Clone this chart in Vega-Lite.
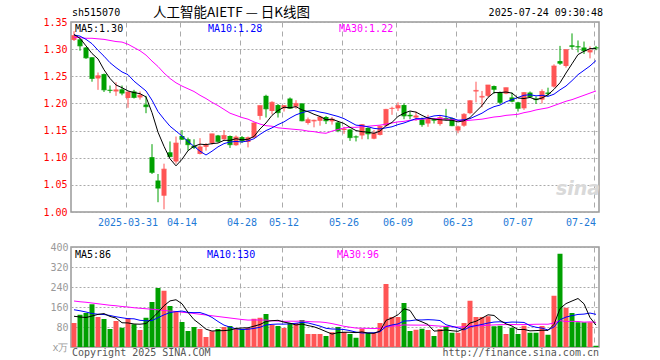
{
"$schema": "https://vega.github.io/schema/vega-lite/v6.json",
"padding": {"left": 42, "top": 5, "right": 5, "bottom": 4},
"background": "white",
"spacing": 13,
"config": {
  "view": {"stroke": "#999999", "strokeWidth": 1.5},
  "axis": {"labelFont": "DejaVu Sans Mono", "labelFontSize": 10, "ticks": false, "domain": false, "title": null, "gridColor": "#aaaaaa", "gridWidth": 1, "labelOverlap": false, "labelBound": false},
  "text": {"font": "DejaVu Sans Mono", "fontSize": 10}
},
"datasets": {"k": [
{"d":"2025-03-18","o":1.317,"h":1.333,"l":1.315,"c":1.325,"v":96,"m5":1.327,"m10":1.326,"m30":1.322,"vm5":123,"vm10":149,"vm30":184},
{"d":"2025-03-19","o":1.318,"h":1.320,"l":1.297,"c":1.306,"v":129,"m5":1.320,"m10":1.324,"m30":1.321,"vm5":120,"vm10":145,"vm30":181},
{"d":"2025-03-20","o":1.303,"h":1.304,"l":1.282,"c":1.284,"v":136,"m5":1.306,"m10":1.318,"m30":1.320,"vm5":118,"vm10":140,"vm30":179},
{"d":"2025-03-21","o":1.285,"h":1.285,"l":1.240,"c":1.246,"v":171,"m5":1.292,"m10":1.310,"m30":1.320,"vm5":124,"vm10":134,"vm30":176},
{"d":"2025-03-24","o":1.246,"h":1.257,"l":1.225,"c":1.251,"v":120,"m5":1.282,"m10":1.298,"m30":1.319,"vm5":130.4,"vm10":131,"vm30":173},
{"d":"2025-03-25","o":1.254,"h":1.255,"l":1.221,"c":1.225,"v":112,"m5":1.262,"m10":1.287,"m30":1.318,"vm5":133.6,"vm10":130,"vm30":170},
{"d":"2025-03-26","o":1.225,"h":1.233,"l":1.219,"c":1.224,"v":72,"m5":1.246,"m10":1.275,"m30":1.316,"vm5":122.2,"vm10":126,"vm30":167},
{"d":"2025-03-27","o":1.222,"h":1.239,"l":1.214,"c":1.225,"v":104,"m5":1.234,"m10":1.266,"m30":1.314,"vm5":115.8,"vm10":121,"vm30":165},
{"d":"2025-03-28","o":1.226,"h":1.233,"l":1.215,"c":1.219,"v":77,"m5":1.229,"m10":1.258,"m30":1.313,"vm5":97,"vm10":117,"vm30":162},
{"d":"2025-03-31","o":1.210,"h":1.222,"l":1.192,"c":1.221,"v":116,"m5":1.223,"m10":1.253,"m30":1.309,"vm5":96.2,"vm10":113.3,"vm30":160},
{"d":"2025-04-01","o":1.222,"h":1.225,"l":1.209,"c":1.211,"v":91,"m5":1.220,"m10":1.241,"m30":1.303,"vm5":92,"vm10":112.8,"vm30":157},
{"d":"2025-04-02","o":1.211,"h":1.222,"l":1.207,"c":1.215,"v":68,"m5":1.218,"m10":1.232,"m30":1.297,"vm5":91.2,"vm10":106.7,"vm30":155},
{"d":"2025-04-03","o":1.198,"h":1.214,"l":1.182,"c":1.194,"v":117,"m5":1.212,"m10":1.223,"m30":1.289,"vm5":93.8,"vm10":104.8,"vm30":153},
{"d":"2025-04-07","o":1.101,"h":1.125,"l":1.070,"c":1.073,"v":180,"m5":1.183,"m10":1.206,"m30":1.278,"vm5":114.4,"vm10":105.7,"vm30":151},
{"d":"2025-04-08","o":1.058,"h":1.070,"l":1.018,"c":1.044,"v":236,"m5":1.147,"m10":1.185,"m30":1.268,"vm5":138.4,"vm10":117.3,"vm30":149},
{"d":"2025-04-09","o":1.030,"h":1.089,"l":1.005,"c":1.079,"v":225,"m5":1.121,"m10":1.171,"m30":1.256,"vm5":165.2,"vm10":128.6,"vm30":146},
{"d":"2025-04-10","o":1.110,"h":1.130,"l":1.101,"c":1.102,"v":164,"m5":1.098,"m10":1.158,"m30":1.246,"vm5":184.4,"vm10":137.8,"vm30":144},
{"d":"2025-04-11","o":1.093,"h":1.139,"l":1.089,"c":1.127,"v":140,"m5":1.085,"m10":1.149,"m30":1.238,"vm5":189,"vm10":141.4,"vm30":142},
{"d":"2025-04-14","o":1.140,"h":1.151,"l":1.133,"c":1.134,"v":100,"m5":1.097,"m10":1.140,"m30":1.232,"vm5":173,"vm10":143.7,"vm30":139},
{"d":"2025-04-15","o":1.134,"h":1.137,"l":1.113,"c":1.124,"v":64,"m5":1.113,"m10":1.130,"m30":1.227,"vm5":138.6,"vm10":138.5,"vm30":137},
{"d":"2025-04-16","o":1.122,"h":1.134,"l":1.116,"c":1.119,"v":80,"m5":1.121,"m10":1.121,"m30":1.222,"vm5":109.6,"vm10":137.4,"vm30":134},
{"d":"2025-04-17","o":1.107,"h":1.136,"l":1.106,"c":1.120,"v":72,"m5":1.125,"m10":1.112,"m30":1.215,"vm5":91.2,"vm10":137.8,"vm30":131},
{"d":"2025-04-18","o":1.120,"h":1.127,"l":1.113,"c":1.123,"v":40,"m5":1.124,"m10":1.105,"m30":1.209,"vm5":71.2,"vm10":130.1,"vm30":128},
{"d":"2025-04-21","o":1.127,"h":1.144,"l":1.124,"c":1.144,"v":63,"m5":1.126,"m10":1.112,"m30":1.202,"vm5":63.8,"vm10":118.4,"vm30":125},
{"d":"2025-04-22","o":1.141,"h":1.142,"l":1.128,"c":1.130,"v":72,"m5":1.127,"m10":1.120,"m30":1.196,"vm5":65.4,"vm10":102,"vm30":122},
{"d":"2025-04-23","o":1.134,"h":1.151,"l":1.133,"c":1.141,"v":80,"m5":1.132,"m10":1.126,"m30":1.189,"vm5":65.4,"vm10":87.5,"vm30":119},
{"d":"2025-04-24","o":1.140,"h":1.141,"l":1.118,"c":1.124,"v":84,"m5":1.132,"m10":1.129,"m30":1.182,"vm5":67.8,"vm10":79.5,"vm30":116},
{"d":"2025-04-25","o":1.123,"h":1.141,"l":1.122,"c":1.138,"v":72,"m5":1.135,"m10":1.130,"m30":1.178,"vm5":74.2,"vm10":72.7,"vm30":113},
{"d":"2025-04-28","o":1.138,"h":1.140,"l":1.127,"c":1.131,"v":72,"m5":1.133,"m10":1.129,"m30":1.174,"vm5":76,"vm10":69.9,"vm30":110},
{"d":"2025-04-29","o":1.129,"h":1.139,"l":1.119,"c":1.137,"v":76,"m5":1.134,"m10":1.131,"m30":1.171,"vm5":76.8,"vm10":71.1,"vm30":107.6},
{"d":"2025-04-30","o":1.137,"h":1.165,"l":1.137,"c":1.164,"v":113,"m5":1.139,"m10":1.135,"m30":1.166,"vm5":83.4,"vm10":74.4,"vm30":108.2},
{"d":"2025-05-06","o":1.177,"h":1.196,"l":1.170,"c":1.196,"v":117,"m5":1.153,"m10":1.143,"m30":1.162,"vm5":90,"vm10":78.9,"vm30":107.8},
{"d":"2025-05-07","o":1.214,"h":1.216,"l":1.174,"c":1.190,"v":132,"m5":1.164,"m10":1.150,"m30":1.159,"vm5":102,"vm10":88.1,"vm30":107.7},
{"d":"2025-05-08","o":1.186,"h":1.204,"l":1.180,"c":1.202,"v":88,"m5":1.178,"m10":1.155,"m30":1.158,"vm5":105.2,"vm10":90.6,"vm30":104.9},
{"d":"2025-05-09","o":1.197,"h":1.199,"l":1.174,"c":1.183,"v":84,"m5":1.187,"m10":1.161,"m30":1.155,"vm5":106.8,"vm10":91.8,"vm30":103.7},
{"d":"2025-05-12","o":1.191,"h":1.197,"l":1.185,"c":1.196,"v":76,"m5":1.193,"m10":1.166,"m30":1.154,"vm5":99.4,"vm10":91.4,"vm30":102.5},
{"d":"2025-05-13","o":1.209,"h":1.211,"l":1.190,"c":1.191,"v":96,"m5":1.192,"m10":1.173,"m30":1.153,"vm5":95.2,"vm10":92.6,"vm30":103.3},
{"d":"2025-05-14","o":1.194,"h":1.206,"l":1.190,"c":1.200,"v":96,"m5":1.194,"m10":1.179,"m30":1.152,"vm5":88,"vm10":95,"vm30":103},
{"d":"2025-05-15","o":1.200,"h":1.200,"l":1.167,"c":1.168,"v":108,"m5":1.188,"m10":1.183,"m30":1.151,"vm5":92,"vm10":98.6,"vm30":104.1},
{"d":"2025-05-16","o":1.164,"h":1.174,"l":1.161,"c":1.170,"v":52,"m5":1.185,"m10":1.186,"m30":1.149,"vm5":85.6,"vm10":96.2,"vm30":101.9},
{"d":"2025-05-19","o":1.167,"h":1.170,"l":1.156,"c":1.169,"v":52,"m5":1.180,"m10":1.187,"m30":1.148,"vm5":80.8,"vm10":90.1,"vm30":100.6},
{"d":"2025-05-20","o":1.168,"h":1.177,"l":1.159,"c":1.175,"v":52,"m5":1.176,"m10":1.184,"m30":1.146,"vm5":72,"vm10":83.6,"vm30":100.1},
{"d":"2025-05-21","o":1.175,"h":1.177,"l":1.162,"c":1.168,"v":44,"m5":1.170,"m10":1.182,"m30":1.145,"vm5":61.6,"vm10":74.8,"vm30":97.7},
{"d":"2025-05-22","o":1.167,"h":1.175,"l":1.161,"c":1.171,"v":59,"m5":1.171,"m10":1.179,"m30":1.149,"vm5":51.8,"vm10":71.9,"vm30":93.6},
{"d":"2025-05-23","o":1.165,"h":1.167,"l":1.147,"c":1.150,"v":80,"m5":1.167,"m10":1.176,"m30":1.152,"vm5":57.4,"vm10":71.5,"vm30":88.4},
{"d":"2025-05-26","o":1.151,"h":1.157,"l":1.144,"c":1.153,"v":60,"m5":1.163,"m10":1.172,"m30":1.155,"vm5":59,"vm10":69.9,"vm30":82.9},
{"d":"2025-05-27","o":1.152,"h":1.153,"l":1.131,"c":1.137,"v":52,"m5":1.156,"m10":1.166,"m30":1.156,"vm5":59,"vm10":65.5,"vm30":79.2},
{"d":"2025-05-28","o":1.139,"h":1.141,"l":1.130,"c":1.138,"v":37,"m5":1.150,"m10":1.160,"m30":1.156,"vm5":57.6,"vm10":59.6,"vm30":75.8},
{"d":"2025-05-29","o":1.141,"h":1.162,"l":1.134,"c":1.161,"v":73,"m5":1.148,"m10":1.159,"m30":1.157,"vm5":60.4,"vm10":56.1,"vm30":74.9},
{"d":"2025-05-30","o":1.155,"h":1.156,"l":1.134,"c":1.144,"v":56,"m5":1.147,"m10":1.157,"m30":1.158,"vm5":55.6,"vm10":56.5,"vm30":74.6},
{"d":"2025-06-03","o":1.135,"h":1.151,"l":1.134,"c":1.145,"v":56,"m5":1.145,"m10":1.154,"m30":1.159,"vm5":54.8,"vm10":56.9,"vm30":73.8},
{"d":"2025-06-04","o":1.142,"h":1.159,"l":1.141,"c":1.158,"v":96,"m5":1.149,"m10":1.153,"m30":1.160,"vm5":63.6,"vm10":61.3,"vm30":74.6},
{"d":"2025-06-05","o":1.159,"h":1.190,"l":1.157,"c":1.189,"v":252,"m5":1.159,"m10":1.155,"m30":1.162,"vm5":106.6,"vm10":82.1,"vm30":81.7},
{"d":"2025-06-06","o":1.190,"h":1.194,"l":1.179,"c":1.191,"v":120,"m5":1.165,"m10":1.157,"m30":1.164,"vm5":116,"vm10":88.2,"vm30":83.6},
{"d":"2025-06-09","o":1.191,"h":1.202,"l":1.186,"c":1.196,"v":120,"m5":1.176,"m10":1.161,"m30":1.166,"vm5":128.8,"vm10":92.2,"vm30":85.2},
{"d":"2025-06-10","o":1.197,"h":1.200,"l":1.171,"c":1.177,"v":176,"m5":1.182,"m10":1.164,"m30":1.167,"vm5":152.8,"vm10":103.8,"vm30":88.4},
{"d":"2025-06-11","o":1.179,"h":1.185,"l":1.171,"c":1.177,"v":64,"m5":1.186,"m10":1.168,"m30":1.169,"vm5":146.4,"vm10":105,"vm30":87.7},
{"d":"2025-06-12","o":1.174,"h":1.185,"l":1.168,"c":1.177,"v":69,"m5":1.184,"m10":1.172,"m30":1.170,"vm5":109.8,"vm10":108.2,"vm30":87.6},
{"d":"2025-06-13","o":1.171,"h":1.174,"l":1.157,"c":1.161,"v":73,"m5":1.178,"m10":1.172,"m30":1.171,"vm5":100.4,"vm10":108.2,"vm30":87.6},
{"d":"2025-06-16","o":1.163,"h":1.179,"l":1.157,"c":1.171,"v":68,"m5":1.173,"m10":1.174,"m30":1.172,"vm5":90,"vm10":109.4,"vm30":87.4},
{"d":"2025-06-17","o":1.171,"h":1.173,"l":1.163,"c":1.169,"v":44,"m5":1.171,"m10":1.177,"m30":1.172,"vm5":63.6,"vm10":108.2,"vm30":85.1},
{"d":"2025-06-18","o":1.162,"h":1.177,"l":1.159,"c":1.174,"v":72,"m5":1.170,"m10":1.178,"m30":1.172,"vm5":65.2,"vm10":105.8,"vm30":83.6},
{"d":"2025-06-19","o":1.173,"h":1.190,"l":1.169,"c":1.171,"v":84,"m5":1.169,"m10":1.176,"m30":1.171,"vm5":68.2,"vm10":89,"vm30":82},
{"d":"2025-06-20","o":1.173,"h":1.174,"l":1.158,"c":1.159,"v":57,"m5":1.169,"m10":1.173,"m30":1.170,"vm5":65,"vm10":82.7,"vm30":80.9},
{"d":"2025-06-23","o":1.150,"h":1.159,"l":1.145,"c":1.157,"v":57,"m5":1.166,"m10":1.169,"m30":1.169,"vm5":62.8,"vm10":76.4,"vm30":80},
{"d":"2025-06-24","o":1.159,"h":1.182,"l":1.157,"c":1.180,"v":96,"m5":1.168,"m10":1.170,"m30":1.168,"vm5":73.2,"vm10":68.4,"vm30":80.7},
{"d":"2025-06-25","o":1.182,"h":1.206,"l":1.180,"c":1.205,"v":185,"m5":1.174,"m10":1.172,"m30":1.169,"vm5":95.8,"vm10":80.5,"vm30":83.7},
{"d":"2025-06-26","o":1.222,"h":1.240,"l":1.202,"c":1.224,"v":120,"m5":1.185,"m10":1.177,"m30":1.170,"vm5":103,"vm10":85.6,"vm30":84.5},
{"d":"2025-06-27","o":1.211,"h":1.223,"l":1.193,"c":1.213,"v":120,"m5":1.196,"m10":1.182,"m30":1.171,"vm5":115.6,"vm10":90.3,"vm30":84.9},
{"d":"2025-06-30","o":1.214,"h":1.234,"l":1.212,"c":1.234,"v":123,"m5":1.211,"m10":1.189,"m30":1.173,"vm5":128.8,"vm10":95.8,"vm30":87.2},
{"d":"2025-07-01","o":1.232,"h":1.233,"l":1.218,"c":1.226,"v":83,"m5":1.220,"m10":1.194,"m30":1.175,"vm5":126.2,"vm10":99.7,"vm30":88.3},
{"d":"2025-07-02","o":1.221,"h":1.222,"l":1.199,"c":1.202,"v":85,"m5":1.220,"m10":1.197,"m30":1.176,"vm5":106.2,"vm10":101,"vm30":89.4},
{"d":"2025-07-03","o":1.218,"h":1.229,"l":1.217,"c":1.229,"v":52,"m5":1.221,"m10":1.203,"m30":1.178,"vm5":92.6,"vm10":97.8,"vm30":89.6},
{"d":"2025-07-04","o":1.211,"h":1.220,"l":1.202,"c":1.204,"v":77,"m5":1.219,"m10":1.207,"m30":1.179,"vm5":84,"vm10":99.8,"vm30":90.2},
{"d":"2025-07-07","o":1.202,"h":1.203,"l":1.185,"c":1.191,"v":52,"m5":1.210,"m10":1.211,"m30":1.180,"vm5":69.8,"vm10":99.3,"vm30":89.3},
{"d":"2025-07-08","o":1.191,"h":1.221,"l":1.188,"c":1.220,"v":85,"m5":1.209,"m10":1.215,"m30":1.183,"vm5":70.2,"vm10":98.2,"vm30":90.1},
{"d":"2025-07-09","o":1.220,"h":1.222,"l":1.210,"c":1.212,"v":57,"m5":1.211,"m10":1.216,"m30":1.185,"vm5":64.6,"vm10":85.4,"vm30":90.3},
{"d":"2025-07-10","o":1.209,"h":1.213,"l":1.199,"c":1.207,"v":57,"m5":1.207,"m10":1.214,"m30":1.188,"vm5":65.6,"vm10":79.1,"vm30":91},
{"d":"2025-07-11","o":1.207,"h":1.226,"l":1.200,"c":1.222,"v":84,"m5":1.210,"m10":1.215,"m30":1.190,"vm5":67,"vm10":75.5,"vm30":91.3},
{"d":"2025-07-14","o":1.220,"h":1.229,"l":1.214,"c":1.218,"v":49,"m5":1.216,"m10":1.213,"m30":1.192,"vm5":66.4,"vm10":68.1,"vm30":91.1},
{"d":"2025-07-15","o":1.231,"h":1.272,"l":1.229,"c":1.269,"v":205,"m5":1.226,"m10":1.217,"m30":1.196,"vm5":90.4,"vm10":80.3,"vm30":96.1},
{"d":"2025-07-16","o":1.278,"h":1.306,"l":1.271,"c":1.274,"v":373,"m5":1.238,"m10":1.225,"m30":1.200,"vm5":153.6,"vm10":109.1,"vm30":105.3},
{"d":"2025-07-17","o":1.269,"h":1.300,"l":1.266,"c":1.299,"v":157,"m5":1.256,"m10":1.232,"m30":1.204,"vm5":173.6,"vm10":119.6,"vm30":102.1},
{"d":"2025-07-18","o":1.307,"h":1.329,"l":1.300,"c":1.305,"v":136,"m5":1.273,"m10":1.242,"m30":1.207,"vm5":184,"vm10":125.5,"vm30":102.7},
{"d":"2025-07-21","o":1.305,"h":1.316,"l":1.294,"c":1.304,"v":99,"m5":1.290,"m10":1.253,"m30":1.211,"vm5":194,"vm10":130.2,"vm30":102},
{"d":"2025-07-22","o":1.303,"h":1.314,"l":1.291,"c":1.297,"v":99,"m5":1.296,"m10":1.261,"m30":1.215,"vm5":172.8,"vm10":131.6,"vm30":99.4},
{"d":"2025-07-23","o":1.294,"h":1.305,"l":1.283,"c":1.298,"v":99,"m5":1.301,"m10":1.269,"m30":1.219,"vm5":118,"vm10":135.8,"vm30":100.6},
{"d":"2025-07-24","o":1.303,"h":1.306,"l":1.298,"c":1.302,"v":5,"m5":1.301,"m10":1.279,"m30":1.223,"vm5":87.6,"vm10":130.6,"vm30":98.4}
]},
"vconcat": [
{
  "width": 528, "height": 190,
  "data": {"name": "k"},
  "encoding": {
    "x": {"field": "d", "type": "ordinal", "scale": {"paddingInner": 0, "paddingOuter": 0},
      "axis": {"values": ["2025-03-31","2025-04-14","2025-04-28","2025-05-12","2025-05-26","2025-06-09","2025-06-23","2025-07-07","2025-07-24"],
        "labelExpr": "datum.value == '2025-03-31' ? datum.value : slice(datum.value, 5)",
        "labelAngle": 0, "labelColor": "#1f7ad6", "labelPadding": 5, "labelFlush": 8,
        "grid": true, "gridDash": [5, 4], "bandPosition": 0.17}}
  },
  "layer": [
    {"data": {"values": [{}]},
     "mark": {"type": "text", "align": "center", "baseline": "middle", "font": "DejaVu Sans", "fontSize": 19, "fontStyle": "italic", "fontWeight": "bold", "color": "#d9d9d9", "text": "sina"},
     "encoding": {"x": {"datum": "2025-07-21", "type": "ordinal"}, "y": {"datum": 1.043, "type": "quantitative"}}},
    {"mark": {"type": "rule", "strokeWidth": 1},
     "encoding": {
       "y": {"field": "l", "type": "quantitative", "scale": {"domain": [1.0, 1.35], "nice": false, "zero": false},
         "axis": {"values": [1.0, 1.05, 1.1, 1.15, 1.2, 1.25, 1.3, 1.35], "tickCount": 20, "format": ".2f", "labelColor": "#ff0000", "labelPadding": 4, "grid": true, "gridDash": [2, 2]}},
       "y2": {"field": "h"},
       "color": {"condition": {"test": "datum.c >= datum.o", "value": "#ff5555"}, "value": "#00a000"}}},
    {"mark": {"type": "bar", "width": 5},
     "encoding": {
       "y": {"field": "o", "type": "quantitative", "scale": {"domain": [1.0, 1.35], "nice": false, "zero": false}},
       "y2": {"field": "c"},
       "color": {"condition": {"test": "datum.c >= datum.o", "value": "#ff5555"}, "value": "#00a000"}}},
    {"mark": {"type": "tick", "thickness": 1, "size": 5},
     "encoding": {
       "y": {"field": "c", "type": "quantitative", "scale": {"domain": [1.0, 1.35], "nice": false, "zero": false}},
       "color": {"condition": {"test": "datum.c >= datum.o", "value": "#ff5555"}, "value": "#00a000"}}},
    {"mark": {"type": "line", "color": "#ff00ff", "strokeWidth": 1},
     "encoding": {"y": {"field": "m30", "type": "quantitative", "scale": {"domain": [1.0, 1.35], "nice": false, "zero": false}}}},
    {"mark": {"type": "line", "color": "#0000ff", "strokeWidth": 1},
     "encoding": {"y": {"field": "m10", "type": "quantitative", "scale": {"domain": [1.0, 1.35], "nice": false, "zero": false}}}},
    {"mark": {"type": "line", "color": "#000000", "strokeWidth": 1},
     "encoding": {"y": {"field": "m5", "type": "quantitative", "scale": {"domain": [1.0, 1.35], "nice": false, "zero": false}}}},
    {"data": {"values": [{}]},
     "mark": {"type": "text", "align": "left", "baseline": "top", "dx": 1, "dy": 2, "color": "#000000", "text": "MA5:1.30"},
     "encoding": {"x": {"datum": "2025-03-18", "type": "ordinal"}, "y": {"datum": 1.35, "type": "quantitative"}}},
    {"data": {"values": [{}]},
     "mark": {"type": "text", "align": "left", "baseline": "top", "dx": 2, "dy": 2, "color": "#0000ff", "text": "MA10:1.28"},
     "encoding": {"x": {"datum": "2025-04-18", "type": "ordinal"}, "y": {"datum": 1.35, "type": "quantitative"}}},
    {"data": {"values": [{}]},
     "mark": {"type": "text", "align": "left", "baseline": "top", "dx": 1, "dy": 2, "color": "#ff00ff", "text": "MA30:1.22"},
     "encoding": {"x": {"datum": "2025-05-23", "type": "ordinal"}, "y": {"datum": 1.35, "type": "quantitative"}}},
    {"data": {"values": [{}]},
     "mark": {"type": "text", "align": "left", "baseline": "middle", "dx": -2, "dy": -9, "color": "#000000", "text": "sh515070"},
     "encoding": {"x": {"datum": "2025-03-18", "type": "ordinal"}, "y": {"datum": 1.35, "type": "quantitative"}}},
    {"data": {"values": [{}]},
     "mark": {"type": "text", "align": "left", "baseline": "middle", "dx": 1, "dy": -9, "color": "#000000", "font": "Noto Sans CJK SC", "fontSize": 13.5, "text": "人工智能AIETF — 日K线图"},
     "encoding": {"x": {"datum": "2025-04-07", "type": "ordinal"}, "y": {"datum": 1.35, "type": "quantitative"}}},
    {"data": {"values": [{}]},
     "mark": {"type": "text", "align": "right", "baseline": "middle", "dx": 7, "dy": -9, "color": "#000000", "text": "2025-07-24 09:30:48"},
     "encoding": {"x": {"datum": "2025-07-24", "type": "ordinal"}, "y": {"datum": 1.35, "type": "quantitative"}}}
  ]
},
{
  "width": 528, "height": 100,
  "data": {"name": "k"},
  "encoding": {
    "x": {"field": "d", "type": "ordinal", "scale": {"paddingInner": 0, "paddingOuter": 0},
      "axis": {"values": ["2025-03-31","2025-04-14","2025-04-28","2025-05-12","2025-05-26","2025-06-09","2025-06-23","2025-07-07","2025-07-24"],
        "labels": false, "grid": true, "gridDash": [5, 4], "bandPosition": 0.17}}
  },
  "layer": [
    {"mark": {"type": "bar", "width": 5},
     "encoding": {
       "y": {"field": "v", "type": "quantitative", "scale": {"domain": [0, 400], "nice": false},
         "axis": {"values": [0, 80, 160, 240, 320, 400], "tickCount": 20, "labelExpr": "datum.value == 0 ? 'x万' : datum.label", "labelColor": "#999999", "labelPadding": 3, "grid": true, "gridDash": [2, 2]}},
       "color": {"condition": {"test": "datum.c >= datum.o", "value": "#ff5555"}, "value": "#00a000"}}},
    {"mark": {"type": "line", "color": "#ff00ff", "strokeWidth": 1},
     "encoding": {"y": {"field": "vm30", "type": "quantitative", "scale": {"domain": [0, 400], "nice": false}}}},
    {"mark": {"type": "line", "color": "#0000ff", "strokeWidth": 1},
     "encoding": {"y": {"field": "vm10", "type": "quantitative", "scale": {"domain": [0, 400], "nice": false}}}},
    {"mark": {"type": "line", "color": "#000000", "strokeWidth": 1},
     "encoding": {"y": {"field": "vm5", "type": "quantitative", "scale": {"domain": [0, 400], "nice": false}}}},
    {"data": {"values": [{}]},
     "mark": {"type": "text", "align": "left", "baseline": "top", "dx": 1, "dy": 3, "color": "#000000", "text": "MA5:86"},
     "encoding": {"x": {"datum": "2025-03-18", "type": "ordinal"}, "y": {"datum": 400, "type": "quantitative"}}},
    {"data": {"values": [{}]},
     "mark": {"type": "text", "align": "left", "baseline": "top", "dx": 1, "dy": 3, "color": "#0000ff", "text": "MA10:130"},
     "encoding": {"x": {"datum": "2025-04-18", "type": "ordinal"}, "y": {"datum": 400, "type": "quantitative"}}},
    {"data": {"values": [{}]},
     "mark": {"type": "text", "align": "left", "baseline": "top", "dx": -1, "dy": 3, "color": "#ff00ff", "text": "MA30:96"},
     "encoding": {"x": {"datum": "2025-05-23", "type": "ordinal"}, "y": {"datum": 400, "type": "quantitative"}}},
    {"data": {"values": [{}]},
     "mark": {"type": "text", "align": "left", "baseline": "top", "dx": -2, "dy": 1, "color": "#555555", "text": "Copyright 2025 SINA.COM"},
     "encoding": {"x": {"datum": "2025-03-18", "type": "ordinal"}, "y": {"datum": 0, "type": "quantitative"}}},
    {"data": {"values": [{}]},
     "mark": {"type": "text", "align": "right", "baseline": "top", "dx": 3, "dy": 1, "color": "#555555", "text": "http://finance.sina.com.cn"},
     "encoding": {"x": {"datum": "2025-07-24", "type": "ordinal"}, "y": {"datum": 0, "type": "quantitative"}}}
  ]
}
]
}
